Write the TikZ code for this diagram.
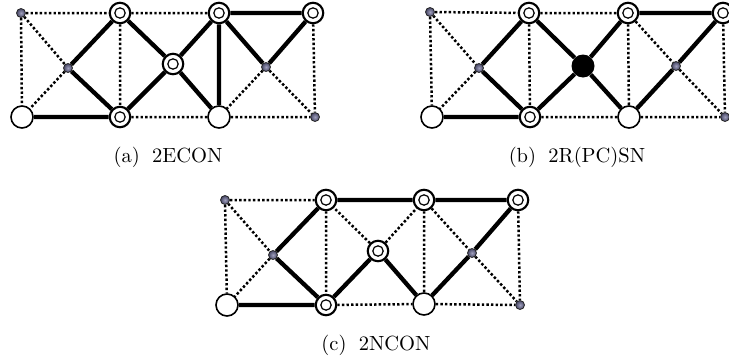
\documentclass[tikz,border=0pt]{standalone}
\usetikzlibrary{backgrounds}
\definecolor{dotout}{RGB}{70,70,100}
\definecolor{dotin}{RGB}{160,160,190}
\begin{document}
\begin{tikzpicture}[x=1pt,y=-1pt,
  thickedge/.style={line width=4.3pt},
  dotedge/.style={line width=2.5pt, dash pattern=on 2.4pt off 2.2pt},
  smalldot/.style={circle, draw=black!85, line width=0.8pt, inner sep=0pt, minimum size=9pt, inner color=dotin, outer color=dotout},
  ring/.style={circle, draw, line width=2.1pt, fill=white, inner sep=0pt, minimum size=20.5pt,
    path picture={\draw[line width=1.2pt] (path picture bounding box.center) circle (5.2pt);}},
  bigwhite/.style={circle, draw, line width=1.6pt, fill=white, inner sep=0pt, minimum size=22pt},
  bigblack/.style={circle, fill=black, inner sep=0pt, minimum size=23pt},
  captext/.style={font=\normalsize, inner sep=0pt, scale=2.05}
]
\useasboundingbox (0,0) rectangle (729,362);

% ---------- (a) ----------
\node[smalldot] (aA) at (21,13) {};
\node[ring] (aB) at (120,13) {};
\node[ring] (aC) at (219,13) {};
\node[ring] (aD) at (313,13) {};
\node[bigwhite] (aE) at (22,117) {};
\node[ring] (aF) at (120,117) {};
\node[bigwhite] (aG) at (219,117) {};
\node[smalldot] (aH) at (315,117) {};
\node[smalldot] (aP) at (68,68) {};
\node[ring] (aQ) at (173,64) {};
\node[smalldot] (aR) at (266,67) {};
\begin{scope}[on background layer]
\draw[thickedge] (aE)--(aF) (aP)--(aB) (aP)--(aF) (aQ)--(aB) (aQ)--(aF) (aQ)--(aC) (aQ)--(aG) (aC)--(aG) (aC)--(aD) (aC)--(aR) (aR)--(aD);
\draw[dotedge] (aA)--(aB) (aB)--(aC) (aF)--(aG) (aG)--(aH) (aA)--(aE) (aB)--(aF) (aD)--(aH) (aA)--(aP) (aP)--(aE) (aR)--(aG) (aR)--(aH);
\end{scope}
\node[captext] (acap) at (168,157) {(a)\hspace{0.6em}2ECON};

% ---------- (b) ----------
\node[smalldot] (bA) at (430,12) {};
\node[ring] (bB) at (529,13) {};
\node[ring] (bC) at (628,13) {};
\node[ring] (bD) at (723,13) {};
\node[bigwhite] (bE) at (432,117) {};
\node[ring] (bF) at (530,117) {};
\node[bigwhite] (bG) at (629,117) {};
\node[smalldot] (bH) at (725,117) {};
\node[smalldot] (bP) at (479,68) {};
\node[bigblack] (bQ) at (583,66) {};
\node[smalldot] (bR) at (676,66) {};
\begin{scope}[on background layer]
\draw[thickedge] (bE)--(bF) (bP)--(bB) (bP)--(bF) (bQ)--(bB) (bQ)--(bF) (bQ)--(bC) (bQ)--(bG) (bC)--(bD) (bG)--(bR) (bR)--(bD);
\draw[dotedge] (bA)--(bB) (bB)--(bC) (bF)--(bG) (bG)--(bH) (bA)--(bE) (bA)--(bP) (bP)--(bE) (bB)--(bF) (bC)--(bG) (bC)--(bR) (bR)--(bH) (bD)--(bH);
\end{scope}
\node[captext] (bcap) at (577,157) {(b)\hspace{0.6em}2R(PC)SN};

% ---------- (c) ----------
\node[smalldot] (cA) at (225,200) {};
\node[ring] (cB) at (326,200) {};
\node[ring] (cC) at (424,200) {};
\node[ring] (cD) at (518,200) {};
\node[bigwhite] (cE) at (227,305) {};
\node[ring] (cF) at (326,305) {};
\node[bigwhite] (cG) at (424,304) {};
\node[smalldot] (cH) at (520,305) {};
\node[smalldot] (cP) at (273,255) {};
\node[ring] (cQ) at (378,251) {};
\node[smalldot] (cR) at (472,253) {};
\begin{scope}[on background layer]
\draw[thickedge] (cE)--(cF) (cP)--(cB) (cP)--(cF) (cB)--(cC) (cC)--(cD) (cQ)--(cF) (cQ)--(cG) (cG)--(cR) (cR)--(cD);
\draw[dotedge] (cA)--(cB) (cA)--(cE) (cA)--(cP) (cP)--(cE) (cB)--(cF) (cQ)--(cB) (cQ)--(cC) (cC)--(cG) (cC)--(cR) (cR)--(cH) (cD)--(cH) (cF)--(cG) (cG)--(cH);
\end{scope}
\node[captext] (ccap) at (376,345) {(c)\hspace{0.6em}2NCON};
\end{tikzpicture}
\end{document}
